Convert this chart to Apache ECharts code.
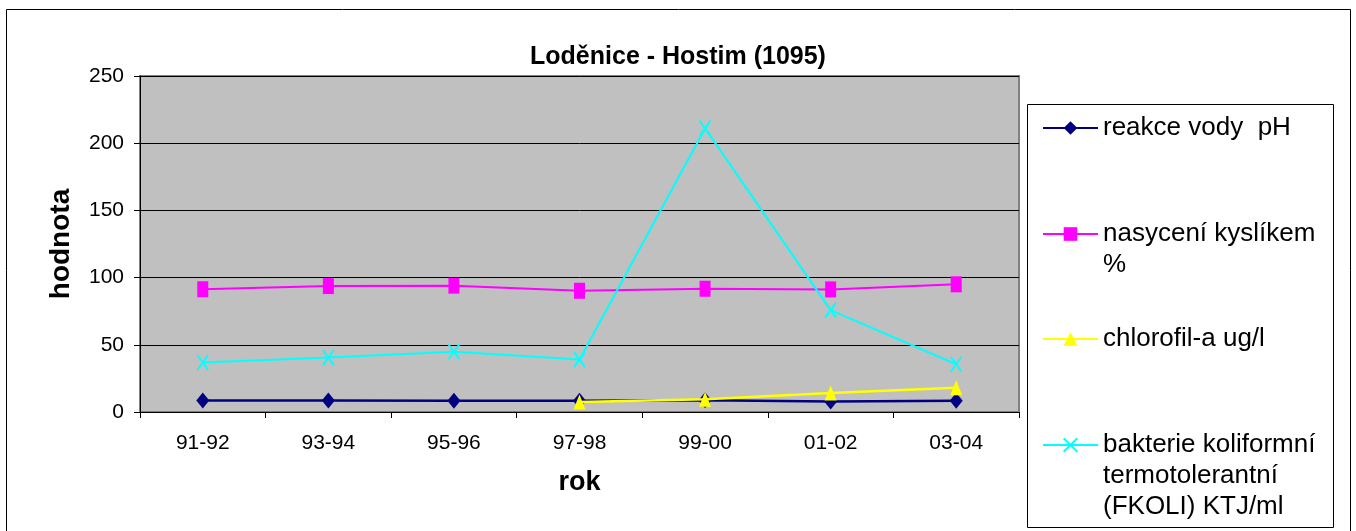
<!DOCTYPE html>
<html>
<head>
<meta charset="utf-8">
<script src="https://cdn.jsdelivr.net/npm/echarts@6/dist/echarts.min.js"></script>
<style>
html,body{margin:0;padding:0;background:#fff;}
#chart{width:1356px;height:531px;}
</style>
</head>
<body>
<div id="chart"></div>
<script>
var titleText = 'Loděnice - Hostim (1095)';
var categories = ['91-92', '93-94', '95-96', '97-98', '99-00', '01-02', '03-04'];
var seriesNames = ['reakce vody  pH', 'nasycení kyslíkem %', 'chlorofil-a ug/l', 'bakterie koliformní termotolerantní (FKOLI) KTJ/ml'];
var legendLabels = ['reakce vody  pH', '\nnasycení kyslíkem\n%', 'chlorofil-a ug/l', '\n\nbakterie koliformní\ntermotolerantní\n(FKOLI) KTJ/ml'];
var phValues = [8.5, 8.6, 8.4, 8.4, 8.7, 7.9, 8.4];
var oxygenValues = [91.3, 93.7, 94.0, 90.2, 91.7, 91.2, 95.0];
var chlorophyllValues = [null, null, null, 7.5, 9.5, 14.2, 18.0];
var coliformValues = [36.8, 40.5, 44.8, 39.0, 211, 75.8, 35.5];
var yTicks = {min: 0, max: 250, interval: 50};
var xAxisName = 'rok';
var yAxisName = 'hodnota';

var FONT = "'Liberation Sans', Arial, sans-serif";
var colors = ['#000080', '#FF00FF', '#FFFF00', '#00FFFF'];
var symbols = ['diamond', 'rect', 'triangle', 'path://M0,0L10,15M10,0L0,15'];
var symbolSizes = [[13, 16], [11, 16], [12, 15], [11, 15]];
var lineWidths = [2.5, 2, 2.5, 2];
var dataSets = [phValues, oxygenValues, chlorophyllValues, coliformValues];
var legendCenters = [128, 234, 339, 445];
var legendLines = [1, 3, 1, 5];
var LH = 31;

var chart = echarts.init(document.getElementById('chart'), null, {renderer: 'canvas'});

var series = dataSets.map(function (d, i) {
  var isCross = i === 3;
  return {
    name: seriesNames[i],
    type: 'line',
    data: d,
    symbol: symbols[i],
    symbolSize: symbolSizes[i],
    showAllSymbol: true,
    connectNulls: false,
    lineStyle: {color: colors[i], width: lineWidths[i]},
    itemStyle: isCross ? {color: colors[i], borderColor: colors[i], borderWidth: 2} : {color: colors[i], borderWidth: 0},
    emphasis: {disabled: true},
    animation: false,
    z: 2 + i
  };
});

var legends = seriesNames.map(function (n, i) {
  var h = legendLines[i] * LH;
  return {
    data: [n],
    orient: 'vertical',
    left: 1042,
    top: legendCenters[i] - h / 2,
    padding: 0,
    itemWidth: 55,
    itemHeight: 17,
    formatter: function () { return legendLabels[i]; },
    textStyle: {fontFamily: FONT, fontSize: 26, color: '#000', lineHeight: LH},
    selectedMode: false
  };
});

var option = {
  backgroundColor: '#fff',
  animation: false,
  title: {
    text: titleText,
    left: 'center',
    top: 40,
    textStyle: {fontFamily: FONT, fontSize: 25, fontWeight: 'bold', color: '#000'}
  },
  graphic: [
    {type: 'rect', shape: {x: 6.5, y: 9.5, width: 1344, height: 540}, style: {fill: 'none', stroke: '#000', lineWidth: 1}, silent: true, z: -10},
    {type: 'rect', shape: {x: 1027.5, y: 104.5, width: 306, height: 423}, style: {fill: '#fff', stroke: '#000', lineWidth: 1}, silent: true, z: -5}
  ],
  legend: legends,
  grid: {
    left: 140, top: 76, width: 879, height: 336,
    show: true, backgroundColor: '#C0C0C0', borderColor: '#808080', borderWidth: 2,
    containLabel: false
  },
  xAxis: {
    type: 'category',
    data: categories,
    boundaryGap: true,
    name: xAxisName,
    nameLocation: 'middle',
    nameGap: 57,
    nameTextStyle: {fontFamily: FONT, fontSize: 27, fontWeight: 'bold', color: '#000'},
    axisLine: {show: true, lineStyle: {color: '#000', width: 1}},
    axisTick: {show: true, length: 6, alignWithLabel: false, lineStyle: {color: '#000'}},
    axisLabel: {fontFamily: FONT, fontSize: 21, color: '#000', margin: 21},
    splitLine: {show: false}
  },
  yAxis: {
    type: 'value',
    min: yTicks.min, max: yTicks.max, interval: yTicks.interval,
    name: yAxisName,
    nameLocation: 'middle',
    nameRotate: 90,
    nameGap: 65,
    nameTextStyle: {fontFamily: FONT, fontSize: 28, fontWeight: 'bold', color: '#000'},
    axisLine: {show: true, lineStyle: {color: '#000', width: 1}},
    axisTick: {show: true, length: 6, lineStyle: {color: '#000'}},
    axisLabel: {fontFamily: FONT, fontSize: 21, color: '#000', margin: 16},
    splitLine: {show: true, lineStyle: {color: '#000', width: 1}}
  },
  series: series
};
chart.setOption(option);
</script>
</body>
</html>
